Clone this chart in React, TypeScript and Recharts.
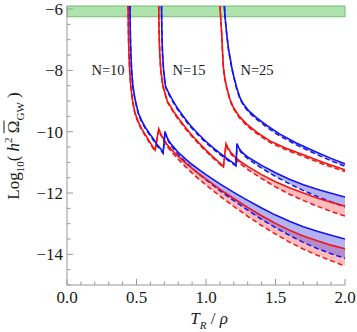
import React from 'react';
import { ComposedChart, Line, Area, XAxis, YAxis, ReferenceArea } from 'recharts';

// axis ticks
const X_TICKS = [0, 0.1, 0.2, 0.3, 0.4, 0.5, 0.6, 0.7, 0.8, 0.9, 1.0, 1.1, 1.2, 1.3, 1.4, 1.5, 1.6, 1.7, 1.8, 1.9, 2.0];
const Y_TICKS = [-15, -14.5, -14, -13.5, -13, -12.5, -12, -11.5, -11, -10.5, -10, -9.5, -9, -8.5, -8, -7.5, -7, -6.5, -6];

// excluded region (green band)
const BAND_Y = [-6.25, -5.9];

// N = 10, red: branch before the jump, then after the jump
const R10_UP_X = [0.4395, 0.441, 0.443, 0.446, 0.451, 0.459, 0.472, 0.49, 0.513, 0.537, 0.561, 0.585, 0.609, 0.633];
const R10_UP_S = [-5.9, -6.5, -7.0, -7.5, -8.0, -8.5, -9.0, -9.4, -9.68, -9.9, -10.08, -10.26, -10.43, -10.6];
const R10_UP_D = [-5.9, -6.52, -7.03, -7.53, -8.03, -8.54, -9.04, -9.44, -9.72, -9.94, -10.12, -10.3, -10.47, -10.64];
const R10_LO_X = [0.66, 0.675, 0.69, 0.705, 0.72, 0.76, 0.8, 0.85, 0.9, 0.95, 1.0, 1.1, 1.2, 1.3, 1.4, 1.5, 1.6, 1.7, 1.8, 1.9, 2.0];
const R10_LO_S = [-9.91, -10.08, -10.2, -10.31, -10.42, -10.62, -10.8, -11.01, -11.2, -11.38, -11.55, -11.88, -12.18, -12.47, -12.74, -12.99, -13.21, -13.4, -13.56, -13.7, -13.82];
const R10_LO_D = [-9.94, -10.11, -10.24, -10.36, -10.48, -10.7, -10.9, -11.13, -11.35, -11.55, -11.74, -12.1, -12.44, -12.76, -13.06, -13.34, -13.6, -13.83, -14.03, -14.21, -14.38];

// N = 10, blue
const B10_UP_X = [0.453, 0.4545, 0.4565, 0.46, 0.465, 0.474, 0.49, 0.513, 0.537, 0.565, 0.597, 0.622, 0.645, 0.67, 0.692];
const B10_UP_S = [-5.9, -6.5, -7.0, -7.5, -8.0, -8.5, -8.95, -9.38, -9.64, -9.87, -10.08, -10.24, -10.4, -10.54, -10.67];
const B10_UP_D = [-5.9, -6.52, -7.03, -7.53, -8.03, -8.54, -8.99, -9.42, -9.68, -9.91, -10.12, -10.28, -10.44, -10.58, -10.71];
const B10_LO_X = [0.705, 0.715, 0.73, 0.75, 0.8, 0.85, 0.9, 0.95, 1.0, 1.1, 1.2, 1.3, 1.4, 1.5, 1.6, 1.7, 1.8, 1.9, 2.0];
const B10_LO_S = [-9.99, -10.13, -10.28, -10.41, -10.67, -10.88, -11.07, -11.24, -11.4, -11.7, -11.98, -12.24, -12.49, -12.72, -12.92, -13.1, -13.25, -13.38, -13.5];
const B10_LO_D = [-10.02, -10.16, -10.32, -10.46, -10.75, -10.98, -11.19, -11.38, -11.57, -11.92, -12.25, -12.56, -12.86, -13.13, -13.38, -13.61, -13.81, -13.98, -14.13];

// N = 15, red
const R15_UP_X = [0.66, 0.6615, 0.664, 0.668, 0.675, 0.69, 0.722, 0.77, 0.813, 0.85, 0.885, 0.95, 1.0, 1.05, 1.1, 1.125];
const R15_UP_S = [-5.9, -6.5, -7.0, -7.5, -8.0, -8.5, -9.0, -9.36, -9.63, -9.85, -10.04, -10.37, -10.6, -10.82, -11.02, -11.14];
const R15_UP_D = [-5.9, -6.52, -7.03, -7.53, -8.03, -8.54, -9.04, -9.4, -9.67, -9.89, -10.08, -10.41, -10.64, -10.86, -11.06, -11.18];
const R15_LO_X = [1.144, 1.16, 1.18, 1.2, 1.25, 1.3, 1.4, 1.5, 1.6, 1.7, 1.8, 1.9, 2.0];
const R15_LO_S = [-10.39, -10.55, -10.68, -10.78, -10.98, -11.13, -11.4, -11.63, -11.83, -12.0, -12.16, -12.3, -12.43];
const R15_LO_D = [-10.42, -10.59, -10.73, -10.84, -11.06, -11.23, -11.53, -11.8, -12.04, -12.24, -12.43, -12.6, -12.75];

// N = 15, blue
const B15_UP_X = [0.68, 0.6815, 0.684, 0.688, 0.695, 0.708, 0.73, 0.76, 0.79, 0.813, 0.85, 0.885, 0.95, 1.0, 1.05, 1.1, 1.15, 1.2, 1.216];
const B15_UP_S = [-5.9, -6.5, -7.0, -7.5, -8.0, -8.5, -8.72, -8.97, -9.2, -9.35, -9.58, -9.78, -10.1, -10.32, -10.52, -10.7, -10.87, -11.03, -11.08];
const B15_UP_D = [-5.9, -6.52, -7.03, -7.53, -8.03, -8.54, -8.76, -9.01, -9.24, -9.39, -9.62, -9.82, -10.14, -10.36, -10.56, -10.74, -10.91, -11.07, -11.12];
const B15_LO_X = [1.223, 1.235, 1.25, 1.275, 1.3, 1.4, 1.5, 1.6, 1.7, 1.8, 1.9, 2.0];
const B15_LO_S = [-10.39, -10.52, -10.62, -10.73, -10.82, -11.1, -11.34, -11.55, -11.73, -11.88, -12.01, -12.13];
const B15_LO_D = [-10.42, -10.55, -10.66, -10.78, -10.88, -11.19, -11.46, -11.7, -11.92, -12.11, -12.29, -12.45];

// N = 25 (no jump inside the range)
const R25_X = [1.1, 1.106, 1.113, 1.118, 1.125, 1.135, 1.149, 1.173, 1.196, 1.24, 1.293, 1.37, 1.46, 1.58, 1.7, 1.85, 2.0];
const R25_S = [-5.9, -6.3, -6.8, -7.3, -7.89, -8.25, -8.55, -8.95, -9.2, -9.5, -9.75, -10.03, -10.3, -10.55, -10.75, -11.01, -11.24];
const R25_D = [-5.9, -6.32, -6.83, -7.33, -7.92, -8.28, -8.59, -8.99, -9.24, -9.55, -9.8, -10.08, -10.35, -10.6, -10.81, -11.07, -11.3];
const B25_X = [1.132, 1.138, 1.149, 1.162, 1.185, 1.2, 1.22, 1.245, 1.268, 1.31, 1.365, 1.44, 1.532, 1.65, 1.772, 1.9, 2.0];
const B25_S = [-5.9, -6.3, -6.8, -7.3, -7.89, -8.2, -8.55, -8.9, -9.09, -9.33, -9.55, -9.8, -10.08, -10.37, -10.62, -10.87, -11.05];
const B25_D = [-5.9, -6.32, -6.83, -7.33, -7.92, -8.23, -8.59, -8.94, -9.13, -9.38, -9.6, -9.86, -10.14, -10.43, -10.69, -10.95, -11.13];

const RED = '#f01414';
const BLUE = '#1414f0';
const FRAME = '#999999';
const FONT = "'Liberation Serif', 'Times New Roman', serif";

const pts = (xs: number[], ys: number[]) => xs.map((x, i) => ({ x, y: ys[i] }));
const band = (xs: number[], s: number[], d: number[]) => xs.map((x, i) => ({ x, range: [d[i], s[i]] }));

const fmtY = (v: number) => (v < 0 ? '\u2212' + Math.abs(v) : String(v));
const txt = { fontFamily: FONT, fontSize: 17, fill: '#1a1a1a' };

const BottomTick = (p: any) => {
  const v = p.payload.value;
  const major = Math.abs(v * 2 - Math.round(v * 2)) < 1e-6;
  return (
    <g>
      <line x1={p.x} y1={p.y} x2={p.x} y2={p.y - (major ? 6 : 3.5)} stroke={FRAME} />
      {major && (
        <text x={p.x} y={p.y + 18} textAnchor="middle" style={txt}>
          {v.toFixed(1)}
        </text>
      )}
    </g>
  );
};

const TopTick = (p: any) => {
  const v = p.payload.value;
  const major = Math.abs(v * 2 - Math.round(v * 2)) < 1e-6;
  return <line x1={p.x} y1={p.y} x2={p.x} y2={p.y + (major ? 6 : 3.5)} stroke={FRAME} />;
};

const LeftTick = (p: any) => {
  const v = p.payload.value;
  const major = Math.abs(v / 2 - Math.round(v / 2)) < 1e-6;
  return (
    <g>
      <line x1={p.x} y1={p.y} x2={p.x + (major ? 6 : 3.5)} y2={p.y} stroke={FRAME} />
      {major && (
        <text x={p.x - 4} y={p.y + 6} textAnchor="end" style={txt}>
          {fmtY(v)}
        </text>
      )}
    </g>
  );
};

const RightTick = (p: any) => {
  const v = p.payload.value;
  const major = Math.abs(v / 2 - Math.round(v / 2)) < 1e-6;
  return <line x1={p.x} y1={p.y} x2={p.x - (major ? 6 : 3.5)} y2={p.y} stroke={FRAME} />;
};

const curves = [
  { color: RED, up: [R10_UP_X, R10_UP_S, R10_UP_D], lo: [R10_LO_X, R10_LO_S, R10_LO_D] },
  { color: BLUE, up: [B10_UP_X, B10_UP_S, B10_UP_D], lo: [B10_LO_X, B10_LO_S, B10_LO_D] },
  { color: RED, up: [R15_UP_X, R15_UP_S, R15_UP_D], lo: [R15_LO_X, R15_LO_S, R15_LO_D] },
  { color: BLUE, up: [B15_UP_X, B15_UP_S, B15_UP_D], lo: [B15_LO_X, B15_LO_S, B15_LO_D] },
  { color: RED, up: [[], [], []], lo: [R25_X, R25_S, R25_D] },
  { color: BLUE, up: [[], [], []], lo: [B25_X, B25_S, B25_D] },
];
// red bands go underneath, blue ones on top so the overlap turns purple
const bandOrder = [...curves.filter((c) => c.color === RED), ...curves.filter((c) => c.color === BLUE)];

const labelStyle: React.CSSProperties = {
  position: 'absolute',
  transform: 'translate(-50%, -50%)',
  fontFamily: FONT,
  fontSize: 14.5,
  color: '#1a1a1a',
  whiteSpace: 'nowrap',
};

export default function App() {
  return (
    <div style={{ position: 'relative', width: 357, height: 332, background: '#fff' }}>
      <style>{'body{margin:0}'}</style>
      <ComposedChart width={357} height={332} margin={{ top: 6, right: 12, bottom: 17, left: 0 }}>
        <XAxis
          dataKey="x"
          type="number"
          domain={[0, 2]}
          ticks={X_TICKS}
          interval={0}
          allowDataOverflow
          height={30}
          tickSize={0}
          tickMargin={0}
          tickLine={false}
          axisLine={{ stroke: FRAME }}
          tick={(p: any) => <BottomTick {...p} />}
        />
        <XAxis
          xAxisId="top"
          orientation="top"
          dataKey="x"
          type="number"
          domain={[0, 2]}
          ticks={X_TICKS}
          interval={0}
          height={0}
          tickSize={0}
          tickMargin={0}
          tickLine={false}
          axisLine={{ stroke: FRAME }}
          tick={(p: any) => <TopTick {...p} />}
        />
        <YAxis
          type="number"
          domain={[-15, -5.9]}
          ticks={Y_TICKS}
          interval={0}
          allowDataOverflow
          width={67}
          tickSize={0}
          tickMargin={0}
          tickLine={false}
          axisLine={{ stroke: FRAME }}
          tick={(p: any) => <LeftTick {...p} />}
        />
        <YAxis
          yAxisId="right"
          orientation="right"
          type="number"
          domain={[-15, -5.9]}
          ticks={Y_TICKS}
          interval={0}
          width={0}
          tickSize={0}
          tickMargin={0}
          tickLine={false}
          axisLine={{ stroke: FRAME }}
          tick={(p: any) => <RightTick {...p} />}
        />
        <ReferenceArea x1={0} x2={2} y1={BAND_Y[0]} y2={BAND_Y[1]} fill="#aee3ae" fillOpacity={1} stroke="#6fc06f" />
        {bandOrder.map((c, i) => (
          <Area
            key={'band' + i}
            data={band(c.lo[0], c.lo[1], c.lo[2])}
            dataKey="range"
            type="linear"
            stroke="none"
            fill={c.color === RED ? '#ff4040' : '#4040e0'}
            fillOpacity={c.color === RED ? 0.35 : 0.4}
            isAnimationActive={false}
            activeDot={false}
          />
        ))}
        {curves.map((c, i) => (
          <Line
            key={'dash' + i}
            data={[...pts(c.up[0], c.up[2]), ...pts(c.lo[0], c.lo[2])]}
            dataKey="y"
            type="linear"
            stroke={c.color}
            strokeWidth={1.5}
            strokeDasharray="5 3"
            dot={false}
            activeDot={false}
            isAnimationActive={false}
          />
        ))}
        {curves.map((c, i) => (
          <Line
            key={'solid' + i}
            data={[...pts(c.up[0], c.up[1]), ...pts(c.lo[0], c.lo[1])]}
            dataKey="y"
            type="linear"
            stroke={c.color}
            strokeWidth={1.6}
            dot={false}
            activeDot={false}
            isAnimationActive={false}
          />
        ))}
      </ComposedChart>
      <div style={{ ...labelStyle, left: 108, top: 70 }}>N=10</div>
      <div style={{ ...labelStyle, left: 189, top: 70 }}>N=15</div>
      <div style={{ ...labelStyle, left: 257, top: 70 }}>N=25</div>
      <div
        style={{
          position: 'absolute',
          left: 14,
          top: 146,
          transform: 'translate(-50%, -50%) rotate(-90deg)',
          fontFamily: FONT,
          fontSize: 17,
          color: '#1a1a1a',
          whiteSpace: 'nowrap',
        }}
      >
        Log<sub style={{ fontSize: 11 }}>10</sub>(&nbsp;<i>h</i>
        <sup style={{ fontSize: 11 }}>2</sup>&nbsp;<span style={{ textDecoration: 'overline' }}>Ω</span>
        <sub style={{ fontSize: 11 }}>GW</sub>&nbsp;)
      </div>
      <div
        style={{
          position: 'absolute',
          left: 209,
          top: 320,
          transform: 'translate(-50%, -50%)',
          fontFamily: FONT,
          fontSize: 17,
          color: '#1a1a1a',
          whiteSpace: 'nowrap',
        }}
      >
        <i>T</i>
        <sub style={{ fontSize: 11 }}>
          <i>R</i>
        </sub>
        &nbsp;/&nbsp;<i>ρ</i>
      </div>
    </div>
  );
}
